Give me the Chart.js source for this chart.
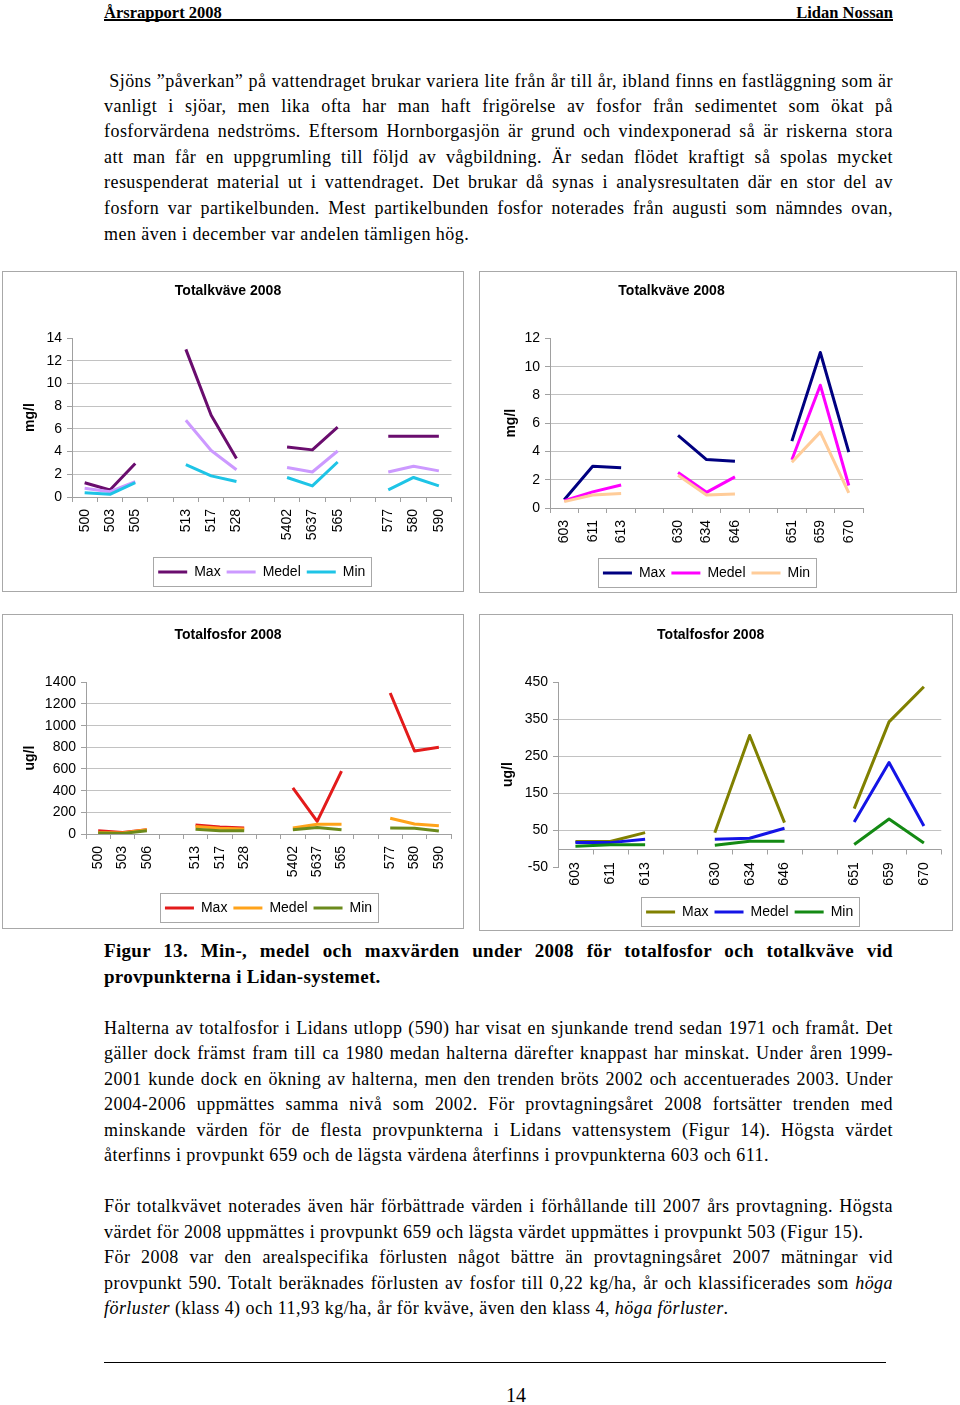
<!DOCTYPE html>
<html><head><meta charset="utf-8">
<script src="https://cdn.jsdelivr.net/npm/chart.js@4.4.0/dist/chart.umd.min.js"></script>
<style>
html,body{margin:0;padding:0;background:#fff;}
#page{position:relative;width:960px;height:1405px;overflow:hidden;font-family:"Liberation Serif","Times New Roman",serif;color:#000;}
.hdr{position:absolute;top:3px;font-weight:bold;font-size:16.5px;line-height:20px;}
.rule{position:absolute;left:104px;width:789px;top:19px;border-top:2px solid #000;}
.ln{position:absolute;left:104px;width:789px;font-size:18px;letter-spacing:0.45px;line-height:25px;height:25px;}
.cap{font-weight:bold;font-size:19px;letter-spacing:0.3px;line-height:26px;height:26px;}
.j{text-align:justify;text-align-last:justify;}
.box{position:absolute;border:1px solid #a8a8a8;box-sizing:border-box;}
.box canvas{display:block;}
</style></head>
<body><div id="page">
<div class="hdr" style="left:104px;">Årsrapport 2008</div>
<div class="hdr" style="left:600px;width:293px;text-align:right;">Lidan Nossan</div>
<div class="rule"></div>

<div class="ln j" style="top:69px;">&nbsp;Sjöns &#8221;påverkan&#8221; på vattendraget brukar variera lite från år till år, ibland finns en fastläggning som är</div>
<div class="ln j" style="top:94px;">vanligt i sjöar, men lika ofta har man haft frigörelse av fosfor från sedimentet som ökat på</div>
<div class="ln j" style="top:119px;">fosforvärdena nedströms. Eftersom Hornborgasjön är grund och vindexponerad så är riskerna stora</div>
<div class="ln j" style="top:145px;">att man får en uppgrumling till följd av vågbildning. Är sedan flödet kraftigt så spolas mycket</div>
<div class="ln j" style="top:170px;">resuspenderat material ut i vattendraget. Det brukar då synas i analysresultaten där en stor del av</div>
<div class="ln j" style="top:196px;">fosforn var partikelbunden. Mest partikelbunden fosfor noterades från augusti som nämndes ovan,</div>
<div class="ln" style="top:222px;">men även i december var andelen tämligen hög.</div>

<div class="box" style="left:2px;top:271px;width:462px;height:321px;"><canvas id="c1" width="460" height="319"></canvas></div>
<div class="box" style="left:479px;top:271px;width:478px;height:322px;"><canvas id="c2" width="476" height="320"></canvas></div>
<div class="box" style="left:2px;top:614px;width:462px;height:315px;"><canvas id="c3" width="460" height="313"></canvas></div>
<div class="box" style="left:479px;top:614px;width:474px;height:317px;"><canvas id="c4" width="472" height="315"></canvas></div>

<div class="ln cap j" style="top:938px;">Figur 13. Min-, medel och maxvärden under 2008 för totalfosfor och totalkväve vid</div>
<div class="ln cap" style="top:964px;">provpunkterna i Lidan-systemet.</div>

<div class="ln j" style="top:1016px;">Halterna av totalfosfor i Lidans utlopp (590) har visat en sjunkande trend sedan 1971 och framåt. Det</div>
<div class="ln j" style="top:1041px;">gäller dock främst fram till ca 1980 medan halterna därefter knappast har minskat. Under åren 1999-</div>
<div class="ln j" style="top:1067px;">2001 kunde dock en ökning av halterna, men den trenden bröts 2002 och accentuerades 2003. Under</div>
<div class="ln j" style="top:1092px;">2004-2006 uppmättes samma nivå som 2002. För provtagningsåret 2008 fortsätter trenden med</div>
<div class="ln j" style="top:1118px;">minskande värden för de flesta provpunkterna i Lidans vattensystem (Figur 14). Högsta värdet</div>
<div class="ln" style="top:1143px;">återfinns i provpunkt 659 och de lägsta värdena återfinns i provpunkterna 603 och 611.</div>

<div class="ln j" style="top:1194px;">För totalkvävet noterades även här förbättrade värden i förhållande till 2007 års provtagning. Högsta</div>
<div class="ln" style="top:1220px;">värdet för 2008 uppmättes i provpunkt 659 och lägsta värdet uppmättes i provpunkt 503 (Figur 15).</div>
<div class="ln j" style="top:1245px;">För 2008 var den arealspecifika förlusten något bättre än provtagningsåret 2007 mätningar vid</div>
<div class="ln j" style="top:1271px;">provpunkt 590. Totalt beräknades förlusten av fosfor till 0,22 kg/ha, år och klassificerades som <i>höga</i></div>
<div class="ln" style="top:1296px;"><i>förluster</i> (klass 4) och 11,93 kg/ha, år för kväve, även den klass 4, <i>höga förluster</i>.</div>

<div style="position:absolute;left:104px;width:782px;top:1362px;border-top:1px solid #000;"></div>
<div style="position:absolute;left:486px;width:60px;top:1383px;font-size:20px;line-height:24px;text-align:center;">14</div>
</div>

<script>
// ---- data ----
const seriesNames = ['Max', 'Medel', 'Min'];

const kvaveCatsA = ['500','503','505','','513','517','528','','5402','5637','565','','577','580','590'];
const kvaveMaxA   = [1.25, 0.62, 2.95, null, 13.0, 7.2, 3.4, null, 4.4, 4.15, 6.15, null, 5.35, 5.35, 5.35];
const kvaveMedelA = [0.78, 0.47, 1.35, null, 6.75, 4.1, 2.4, null, 2.6, 2.2, 4.05, null, 2.2, 2.7, 2.3];
const kvaveMinA   = [0.38, 0.24, 1.27, null, 2.84, 1.86, 1.36, null, 1.72, 0.98, 3.08, null, 0.62, 1.72, 0.98];

const kvaveCatsB = ['603','611','613','','630','634','646','','651','659','670'];
const kvaveMaxB   = [0.59, 2.96, 2.84, null, 5.14, 3.43, 3.31, null, 4.73, 11.0, 3.95];
const kvaveMedelB = [0.52, 1.14, 1.63, null, 2.51, 1.11, 2.2, null, 3.41, 8.69, 1.59];
const kvaveMinB   = [0.45, 0.92, 1.02, null, 2.32, 0.92, 0.99, null, 3.24, 5.37, 1.07];

const fosforCatsA = ['500','503','506','','513','517','528','','5402','5637','565','','577','580','590'];
const fosforMaxA   = [30, 15, 40, null, 83, 65, 56, null, 426, 117, 581, null, 1301, 766, 800];
const fosforMedelA = [15, 10, 40, null, 70, 52, 46, null, 56, 90, 90, null, 145, 93, 77];
const fosforMinA   = [10, 5, 30, null, 43, 31, 31, null, 40, 59, 40, null, 56, 53, 28];

const fosforCatsB = ['603','611','613','','630','634','646','','651','659','670'];
const fosforMaxB   = [19, 19, 43, null, 43, 306, 70, null, 108, 343, 438];
const fosforMedelB = [16, 16, 25, null, 25, 28, 55, null, 72, 233, 61];
const fosforMinB   = [6, 10, 10, null, 9, 20, 20, null, 11, 80, 15];

// axis ranges [min, max, step]
const kvaveAxisA = [0, 14, 2];
const kvaveAxisB = [0, 12, 2];
const fosforAxisA = [0, 1400, 200];
const fosforAxisB = [-50, 450, 100];

// ---- rendering ----
Chart.defaults.font.family = "'Liberation Sans', Arial, sans-serif";
Chart.defaults.color = '#000';
const gridGray = '#c2c2c2', axisGray = '#a0a0a0';
const FS = 14;

const legendBorder = {
  id: 'legendBorder',
  afterDraw(chart) {
    const hb = chart.legend && chart.legend.legendHitBoxes;
    if (!hb || !hb.length) return;
    const ctx = chart.ctx;
    const l = Math.min(...hb.map(h => h.left)) - 5;
    const r = Math.max(...hb.map(h => h.left + h.width)) + 6;
    const cy = hb[0].top + hb[0].height / 2;
    ctx.save();
    ctx.strokeStyle = '#a8a8a8'; ctx.lineWidth = 1;
    ctx.strokeRect(Math.round(l) + 0.5, Math.round(cy - 15) + 0.5, Math.round(r - l), 29);
    ctx.restore();
  }
};

const zeroAxis = {
  id: 'zeroAxis',
  beforeDatasetsDraw(chart) {
    const {ctx, chartArea: a, scales: {x, y}} = chart;
    const y0 = Math.round(y.getPixelForValue(0)) + 0.5;
    const n = x.ticks.length;
    ctx.save();
    ctx.strokeStyle = axisGray; ctx.lineWidth = 1;
    ctx.beginPath();
    ctx.moveTo(a.left, y0); ctx.lineTo(a.right, y0);
    for (let i = 0; i <= n; i++) {
      const px = Math.round(a.left + (a.right - a.left) * i / n) + 0.5;
      ctx.moveTo(px, y0); ctx.lineTo(px, y0 + 5);
    }
    ctx.stroke();
    ctx.restore();
  }
};

function makeChart(id, o) {
  const [ymin, ymax, ystep] = o.axis;
  const legPad = 6;
  const plugins = [legendBorder];
  if (o.zero) plugins.push(zeroAxis);
  return new Chart(document.getElementById(id), {
    type: 'line',
    data: {
      labels: o.labels,
      datasets: o.series.map((s, i) => ({
        label: seriesNames[i], data: s,
        borderColor: o.colors[i], backgroundColor: o.colors[i],
        borderWidth: 3, pointRadius: 0, pointHoverRadius: 0, tension: 0,
        spanGaps: false, fill: false, order: 3 - i,
        borderJoinStyle: 'round', borderCapStyle: 'butt'
      }))
    },
    options: {
      responsive: false, animation: false, devicePixelRatio: 1,
      events: [],
      layout: { padding: { left: 0, right: o.padRight, top: 0, bottom: o.padBottom } },
      plugins: {
        title: { display: true, text: o.title, color: '#000',
          font: { size: 14, weight: 'bold' }, padding: { top: o.titleTop, bottom: o.titleBottom } },
        legend: { position: 'bottom', fullSize: false,
          labels: { usePointStyle: true, pointStyle: 'line', pointStyleWidth: 29, padding: legPad,
            color: '#000', font: { size: FS }, sort: (a, b) => a.datasetIndex - b.datasetIndex } },
        tooltip: { enabled: false }
      },
      scales: {
        x: {
          type: 'category', offset: true,
          grid: { display: !o.zero, drawOnChartArea: false, drawTicks: !o.zero, tickLength: 5, offset: true, color: axisGray },
          border: { display: !o.zero, color: axisGray, width: 1 },
          ticks: { autoSkip: false, maxRotation: 90, minRotation: 90, padding: o.xPad, font: { size: FS }, color: '#000' },
          afterFit: s => { s.height = o.xH; s._computeLabelArea = () => undefined; }
        },
        y: {
          min: ymin, max: ymax,
          ticks: { stepSize: ystep, padding: 5, font: { size: FS }, color: '#000', callback: v => String(v) },
          grid: { drawTicks: true, tickLength: 5, tickColor: axisGray,
            color: c => (c.tick && (c.tick.value === ymax || (o.zero && c.tick.value === ymin))) ? 'rgba(0,0,0,0)' : gridGray },
          border: { display: true, color: axisGray, width: 1 },
          title: { display: true, text: o.yTitle, color: '#000', font: { size: 14, weight: 'bold' }, padding: { top: o.yTitlePad, bottom: 0 } },
          afterFit: s => { s.width = o.yW; }
        }
      }
    },
    plugins
  });
}

makeChart('c1', {
  title: 'Totalkväve 2008', yTitle: 'mg/l', labels: kvaveCatsA,
  series: [kvaveMaxA, kvaveMedelA, kvaveMinA], colors: ['#6a0d6e', '#cc99ff', '#1ec4e6'],
  axis: kvaveAxisA, yW: 69, padRight: 10, titleTop: 10.6, titleBottom: 38.6,
  xH: 62, xPad: 7, padBottom: 2, yTitlePad: 18.6
});
makeChart('c2', {
  title: 'Totalkväve 2008', yTitle: 'mg/l', labels: kvaveCatsB,
  series: [kvaveMaxB, kvaveMedelB, kvaveMinB], colors: ['#000080', '#ff00ff', '#ffcc99'],
  axis: kvaveAxisB, yW: 70, padRight: 93, titleTop: 10.6, titleBottom: 39,
  xH: 52, xPad: 7, padBottom: 2, yTitlePad: 22.9
});
makeChart('c3', {
  title: 'Totalfosfor 2008', yTitle: 'ug/l', labels: fosforCatsA,
  series: [fosforMaxA, fosforMedelA, fosforMinA], colors: ['#e31b1b', '#ffa31a', '#6b8a1c'],
  axis: fosforAxisA, yW: 83, padRight: 10, titleTop: 11.6, titleBottom: 38.9,
  xH: 61, xPad: 7, padBottom: 3, yTitlePad: 18.6
});
makeChart('c4', {
  title: 'Totalfosfor 2008', yTitle: 'ug/l', labels: fosforCatsB,
  series: [fosforMaxB, fosforMedelB, fosforMinB], colors: ['#808000', '#1414e6', '#148a14'],
  axis: fosforAxisB, yW: 78, padRight: 10.7, titleTop: 11.6, titleBottom: 38.9,
  xH: 32, xPad: -4.7, padBottom: 1, yTitlePad: 19.6, zero: true
});
</script>
</body></html>
